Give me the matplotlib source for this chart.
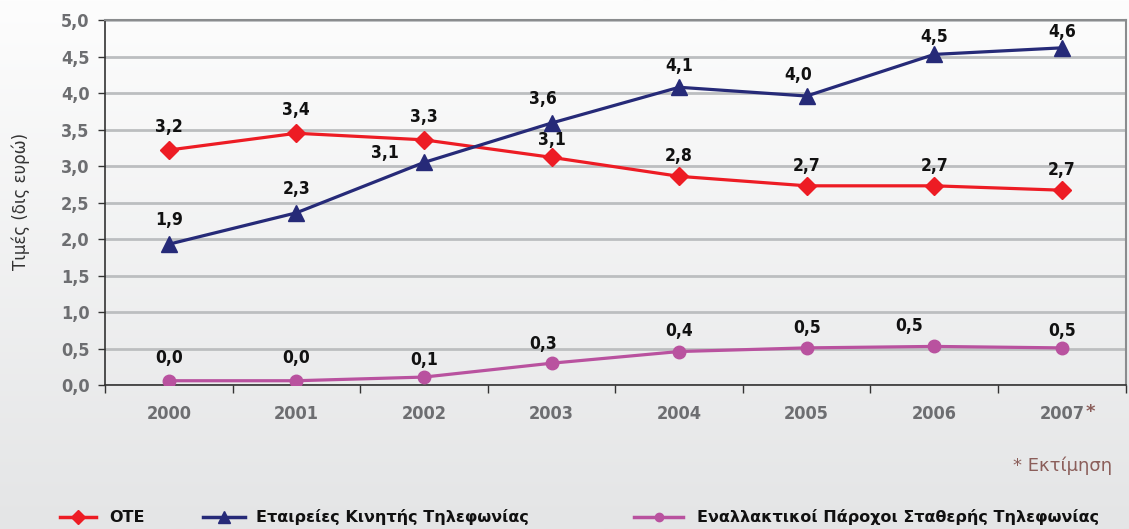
import numpy as np
import matplotlib
matplotlib.use("Agg")
from matplotlib import pyplot as plt
from matplotlib.lines import Line2D


years = ['2000', '2001', '2002', '2003', '2004', '2005', '2006', '2007']

ote = [3.22, 3.45, 3.36, 3.12, 2.86, 2.73, 2.73, 2.67]
mobile = [1.93, 2.36, 3.05, 3.59, 4.08, 3.96, 4.53, 4.62]
alt = [0.06, 0.06, 0.11, 0.30, 0.46, 0.51, 0.53, 0.51]

ote_labels = ['3,2', '3,4', '3,3', '3,1', '2,8', '2,7', '2,7', '2,7']
mobile_labels = ['1,9', '2,3', '3,1', '3,6', '4,1', '4,0', '4,5', '4,6']
alt_labels = ['0,0', '0,0', '0,1', '0,3', '0,4', '0,5', '0,5', '0,5']

names = ['ΟΤΕ', 'Εταιρείες Κινητής Τηλεφωνίας', 'Εναλλακτικοί Πάροχοι Σταθερής Τηλεφωνίας']

red = '#ed1c24'
navy = '#262a78'
magenta = '#b9529f'
tick_grey = '#6d6e71'

fig = plt.figure(figsize=(11.29, 5.29), dpi=100)

# background gradient
bg = fig.add_axes([0, 0, 1, 1], zorder=-10)
grad = np.linspace(0, 1, 256).reshape(-1, 1)
bg.imshow(grad, aspect='auto', extent=[0, 1, 0, 1], origin='upper',
          cmap=matplotlib.colors.LinearSegmentedColormap.from_list('g', ['#fdfdfd', '#e4e5e6']))
bg.set_xlim(0, 1)
bg.set_ylim(0, 1)
bg.axis('off')

ax = fig.add_axes([0.093, 0.272, 0.904, 0.690])
ax.patch.set_alpha(0)

x = np.arange(len(years)) + 0.5

ax.plot(x, ote, color=red, lw=2.3, marker='D', ms=9, zorder=3)
ax.plot(x, mobile, color=navy, lw=2.3, marker='^', ms=11, zorder=3)
ax.plot(x, alt, color=magenta, lw=2.3, marker='o', ms=9, zorder=3)

lab_font = dict(fontsize=12.5, fontweight='bold', color='#111111', ha='center', va='bottom',
                fontstretch='condensed')
ote_off = [(0, 10), (0, 10), (0, 10), (0, 6), (0, 8), (0, 8), (0, 8), (0, 8)]
mob_off = [(0, 11), (0, 11), (-28, 0), (-6, 11), (0, 9), (-6, 9), (0, 6), (0, 5)]
alt_off = [(0, 10), (0, 10), (0, 6), (-6, 7), (0, 8), (0, 8), (-18, 8), (0, 6)]
for vals, labs, offs in [(ote, ote_labels, ote_off), (mobile, mobile_labels, mob_off), (alt, alt_labels, alt_off)]:
    for xi, v, t, o in zip(x, vals, labs, offs):
        ax.annotate(t, (xi, v), xytext=o, textcoords='offset points', **lab_font)

ax.set_xlim(0, 8)
ax.set_ylim(0, 5)
yt = np.arange(0, 5.01, 0.5)
ax.set_yticks(yt)
ax.set_yticklabels([f'{v:.1f}'.replace('.', ',') for v in yt],
                   fontsize=13, fontweight='bold', color=tick_grey, fontstretch='condensed')
ax.set_xticks(np.arange(0, 9))
ax.set_xticklabels([])
ax.set_xticks(x, minor=True)
ax.set_xticklabels(years, minor=True, fontsize=13, fontweight='bold',
                   color=tick_grey, fontstretch='condensed')
ax.tick_params(axis='x', which='minor', length=0, pad=14)
ax.tick_params(axis='x', which='major', length=6, direction='out', color='#333333', width=1)
ax.tick_params(axis='y', length=5, direction='out', color='#333333', width=1, pad=6)
ax.text(x[-1] + 0.19, -0.37, '*', color='#8b5e5a', fontsize=13, fontweight='bold',
        ha='left', va='center')

ax.grid(axis='y', color='#bcbec0', lw=2)
ax.set_axisbelow(True)
for s in ['left', 'bottom']:
    ax.spines[s].set_color('#333333')
    ax.spines[s].set_linewidth(1.2)
for s in ['top', 'right']:
    ax.spines[s].set_color('#8a8c8e')
    ax.spines[s].set_linewidth(1.5)

fig.text(0.018, 0.62, 'Τιμές (δις ευρώ)', rotation=90, ha='center', va='center',
         fontsize=12, color='#333333')

fig.text(0.985, 0.12, '* Εκτίμηση', ha='right', va='center', fontsize=13, color='#8b5e5a')

# legend, placed item by item
leg_y = 0.022
leg_items = [
    (red, 'D', 7, 0.053, 0.085, 0.097),
    (navy, '^', 9, 0.180, 0.217, 0.227),
    (magenta, 'o', 6, 0.562, 0.605, 0.617),
]
for (col, mk, ms, x0, x1, tx), name in zip(leg_items, names):
    fig.add_artist(Line2D([x0, x1], [leg_y, leg_y], color=col, lw=2.5, transform=fig.transFigure))
    fig.add_artist(Line2D([(x0 + x1) / 2], [leg_y], color=col, marker=mk, ms=ms,
                          transform=fig.transFigure))
    fig.text(tx, leg_y, name, ha='left', va='center', fontsize=11.5, fontweight='bold',
             color='#111111')

fig.savefig('out.png', dpi=100)
